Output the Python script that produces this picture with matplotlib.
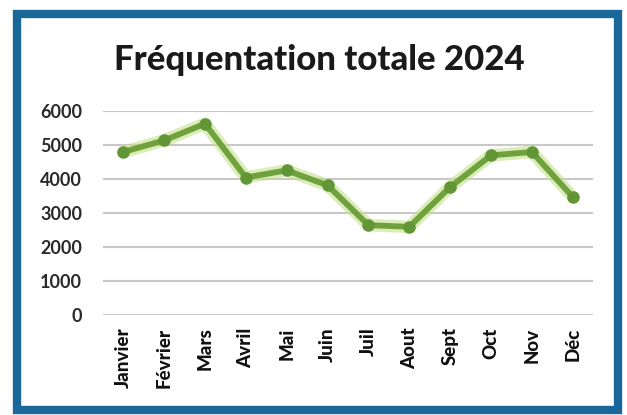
import matplotlib.pyplot as plt
from matplotlib.patches import Rectangle

months = ["Janvier", "Février", "Mars", "Avril", "Mai", "Juin",
          "Juil", "Aout", "Sept", "Oct", "Nov", "Déc"]
visits = [4790, 5130, 5620, 4040, 4250, 3810,
          2640, 2590, 3760, 4690, 4790, 3470]
y_ticks = [0, 1000, 2000, 3000, 4000, 5000, 6000]

plt.rcParams["font.family"] = ["Lato", "DejaVu Sans"]

fig = plt.figure(figsize=(6.27, 4.15), dpi=100)
ax = fig.add_axes([0.164, 0.241, 0.782, 0.492])

x = list(range(len(months)))
# soft halo under the line, then the line itself
ax.plot(x, visits, color="#c4e08a", linewidth=9, alpha=0.6,
        solid_capstyle="round", zorder=2)
ax.plot(x, visits, color="#6fa23c", linewidth=4.2, marker="o",
        markersize=8, markerfacecolor="#619536", markeredgecolor="#619536",
        zorder=3)

ax.set_xlim(-0.5, len(months) - 0.5)
ax.set_ylim(0, 6000)
ax.set_yticks(y_ticks)
ax.set_yticklabels([str(v) for v in y_ticks], fontweight="bold",
                   color="#2a2a2a", fontsize=13)
ax.set_xticks(x)
ax.set_xticklabels(months, rotation=90, fontweight="black",
                   color="#111111", fontsize=13.5)
ax.tick_params(axis="both", length=0)
ax.tick_params(axis="y", pad=15)
ax.tick_params(axis="x", pad=9)
ax.grid(axis="y", color="#c8c8c8", linewidth=1.5)
ax.set_axisbelow(True)
for s in ax.spines.values():
    s.set_visible(False)

fig.text(0.51, 1 - 70 / 415, "Fréquentation totale 2024", ha="center",
         va="baseline", fontsize=25, fontweight="black", color="#1a1a1a")

# blue frame around the chart
fig.patches.append(Rectangle((17 / 627, 1 - 410 / 415), 601 / 627, 396 / 415,
                             transform=fig.transFigure, fill=False,
                             edgecolor="#1a679a", linewidth=6, zorder=10))

fig.savefig("out.png", dpi=100)
